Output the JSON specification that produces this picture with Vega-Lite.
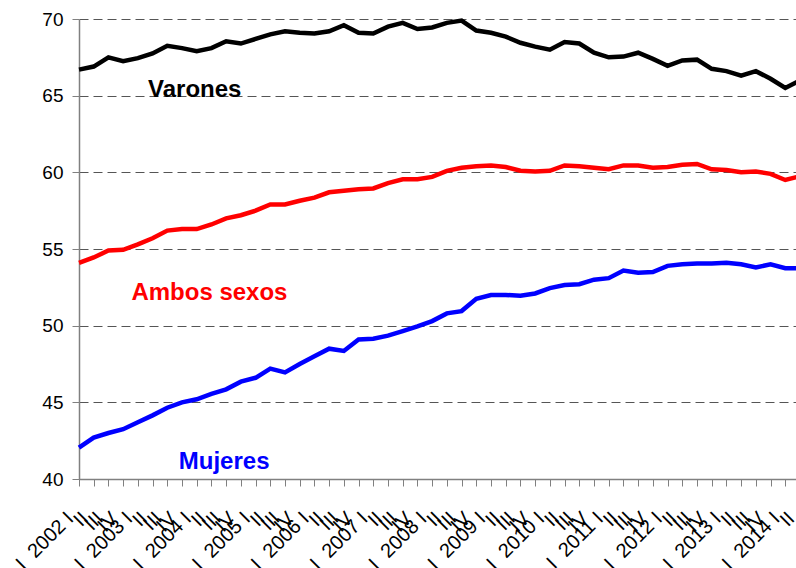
{
  "$schema": "https://vega.github.io/schema/vega-lite/v6.json",
  "width": 716,
  "height": 460,
  "autosize": {"type": "none"},
  "padding": {"left": 79, "top": 19, "right": 1, "bottom": 89},
  "background": "white",
  "config": {"view": {"stroke": null}, "font": "Liberation Sans"},
  "datasets": {
    "series": [
      {"periodo":"2002 I","Varones":66.7,"Ambos sexos":54.1,"Mujeres":42.05},
      {"periodo":"2002 II","Varones":66.9,"Ambos sexos":54.45,"Mujeres":42.7},
      {"periodo":"2002 III","Varones":67.5,"Ambos sexos":54.9,"Mujeres":43.0},
      {"periodo":"2002 IV","Varones":67.25,"Ambos sexos":54.95,"Mujeres":43.25},
      {"periodo":"2003 I","Varones":67.45,"Ambos sexos":55.3,"Mujeres":43.7},
      {"periodo":"2003 II","Varones":67.75,"Ambos sexos":55.7,"Mujeres":44.15},
      {"periodo":"2003 III","Varones":68.25,"Ambos sexos":56.2,"Mujeres":44.65},
      {"periodo":"2003 IV","Varones":68.1,"Ambos sexos":56.3,"Mujeres":45.0},
      {"periodo":"2004 I","Varones":67.9,"Ambos sexos":56.3,"Mujeres":45.2},
      {"periodo":"2004 II","Varones":68.1,"Ambos sexos":56.6,"Mujeres":45.55},
      {"periodo":"2004 III","Varones":68.55,"Ambos sexos":57.0,"Mujeres":45.85},
      {"periodo":"2004 IV","Varones":68.4,"Ambos sexos":57.2,"Mujeres":46.35},
      {"periodo":"2005 I","Varones":68.7,"Ambos sexos":57.5,"Mujeres":46.6},
      {"periodo":"2005 II","Varones":69.0,"Ambos sexos":57.9,"Mujeres":47.2},
      {"periodo":"2005 III","Varones":69.2,"Ambos sexos":57.9,"Mujeres":46.95},
      {"periodo":"2005 IV","Varones":69.1,"Ambos sexos":58.15,"Mujeres":47.5},
      {"periodo":"2006 I","Varones":69.05,"Ambos sexos":58.35,"Mujeres":48.0},
      {"periodo":"2006 II","Varones":69.2,"Ambos sexos":58.7,"Mujeres":48.5},
      {"periodo":"2006 III","Varones":69.6,"Ambos sexos":58.8,"Mujeres":48.35},
      {"periodo":"2006 IV","Varones":69.1,"Ambos sexos":58.9,"Mujeres":49.1},
      {"periodo":"2007 I","Varones":69.05,"Ambos sexos":58.95,"Mujeres":49.15},
      {"periodo":"2007 II","Varones":69.5,"Ambos sexos":59.3,"Mujeres":49.35},
      {"periodo":"2007 III","Varones":69.75,"Ambos sexos":59.55,"Mujeres":49.65},
      {"periodo":"2007 IV","Varones":69.35,"Ambos sexos":59.55,"Mujeres":49.95},
      {"periodo":"2008 I","Varones":69.45,"Ambos sexos":59.7,"Mujeres":50.3},
      {"periodo":"2008 II","Varones":69.75,"Ambos sexos":60.1,"Mujeres":50.8},
      {"periodo":"2008 III","Varones":69.9,"Ambos sexos":60.3,"Mujeres":50.95},
      {"periodo":"2008 IV","Varones":69.25,"Ambos sexos":60.4,"Mujeres":51.75},
      {"periodo":"2009 I","Varones":69.1,"Ambos sexos":60.45,"Mujeres":52.0},
      {"periodo":"2009 II","Varones":68.85,"Ambos sexos":60.35,"Mujeres":52.0},
      {"periodo":"2009 III","Varones":68.45,"Ambos sexos":60.1,"Mujeres":51.95},
      {"periodo":"2009 IV","Varones":68.2,"Ambos sexos":60.05,"Mujeres":52.1},
      {"periodo":"2010 I","Varones":68.0,"Ambos sexos":60.1,"Mujeres":52.45},
      {"periodo":"2010 II","Varones":68.5,"Ambos sexos":60.45,"Mujeres":52.65},
      {"periodo":"2010 III","Varones":68.4,"Ambos sexos":60.4,"Mujeres":52.7},
      {"periodo":"2010 IV","Varones":67.8,"Ambos sexos":60.3,"Mujeres":53.0},
      {"periodo":"2011 I","Varones":67.5,"Ambos sexos":60.2,"Mujeres":53.1},
      {"periodo":"2011 II","Varones":67.55,"Ambos sexos":60.45,"Mujeres":53.6},
      {"periodo":"2011 III","Varones":67.8,"Ambos sexos":60.45,"Mujeres":53.45},
      {"periodo":"2011 IV","Varones":67.4,"Ambos sexos":60.3,"Mujeres":53.5},
      {"periodo":"2012 I","Varones":66.95,"Ambos sexos":60.35,"Mujeres":53.9},
      {"periodo":"2012 II","Varones":67.3,"Ambos sexos":60.5,"Mujeres":54.0},
      {"periodo":"2012 III","Varones":67.35,"Ambos sexos":60.55,"Mujeres":54.05},
      {"periodo":"2012 IV","Varones":66.75,"Ambos sexos":60.2,"Mujeres":54.05},
      {"periodo":"2013 I","Varones":66.6,"Ambos sexos":60.15,"Mujeres":54.1},
      {"periodo":"2013 II","Varones":66.3,"Ambos sexos":60.0,"Mujeres":54.0},
      {"periodo":"2013 III","Varones":66.6,"Ambos sexos":60.05,"Mujeres":53.8},
      {"periodo":"2013 IV","Varones":66.1,"Ambos sexos":59.9,"Mujeres":54.0},
      {"periodo":"2014 I","Varones":65.5,"Ambos sexos":59.5,"Mujeres":53.75},
      {"periodo":"2014 II","Varones":66.0,"Ambos sexos":59.75,"Mujeres":53.75}
    ],
    "etiquetas": [
      {"periodo":"2004 I","tasa":64.9,"serie":"Varones"},
      {"periodo":"2004 II","tasa":51.67,"serie":"Ambos sexos"},
      {"periodo":"2004 III","tasa":40.68,"serie":"Mujeres"}
    ]
  },
  "layer": [
    {
      "data": {"name": "series"},
      "transform": [{"fold": ["Varones", "Ambos sexos", "Mujeres"], "as": ["serie", "tasa"]}],
      "mark": {"type": "line", "strokeWidth": 4.5, "strokeJoin": "miter"},
      "encoding": {
        "x": {
          "field": "periodo", "type": "ordinal", "sort": null,
          "scale": {"type": "point", "padding": 0, "range": [0, 721]},
          "axis": {
            "title": null, "domainColor": "#808080", "domainWidth": 1.5,
            "tickColor": "#808080", "tickSize": 7, "tickWidth": 1,
            "labelAngle": -45, "labelAlign": "right", "labelBaseline": "middle",
            "labelFontSize": 20, "labelColor": "#000000", "labelPadding": 29, "labelOffset": -9,
            "labelOverlap": false, "labelBound": false, "labelFlush": false,
            "labelExpr": "split(datum.value, ' ')[1] == 'I' ? 'I\u00a0\u00a0' + datum.value : split(datum.value, ' ')[1]"
          }
        },
        "y": {
          "field": "tasa", "type": "quantitative",
          "scale": {"domain": [40, 70], "nice": false, "zero": false},
          "axis": {
            "title": null, "values": [40, 45, 50, 55, 60, 65, 70],
            "grid": true, "gridDash": [9, 5], "gridColor": "#555555", "gridWidth": 1,
            "domainColor": "#808080", "domainWidth": 1.5,
            "tickColor": "#808080", "tickSize": 7,
            "labelFontSize": 19, "labelColor": "#000000", "labelPadding": 9
          }
        },
        "color": {
          "field": "serie", "type": "nominal",
          "scale": {"domain": ["Varones", "Ambos sexos", "Mujeres"], "range": ["#000000", "#FF0000", "#0000FF"]},
          "legend": null
        }
      }
    },
    {
      "data": {"name": "etiquetas"},
      "mark": {"type": "text", "fontWeight": "bold", "fontSize": 24, "align": "center", "baseline": "alphabetic", "dx": -2},
      "encoding": {
        "x": {"field": "periodo", "type": "ordinal", "sort": null},
        "y": {"field": "tasa", "type": "quantitative"},
        "text": {"field": "serie"},
        "color": {"field": "serie", "type": "nominal", "legend": null}
      }
    }
  ]
}
